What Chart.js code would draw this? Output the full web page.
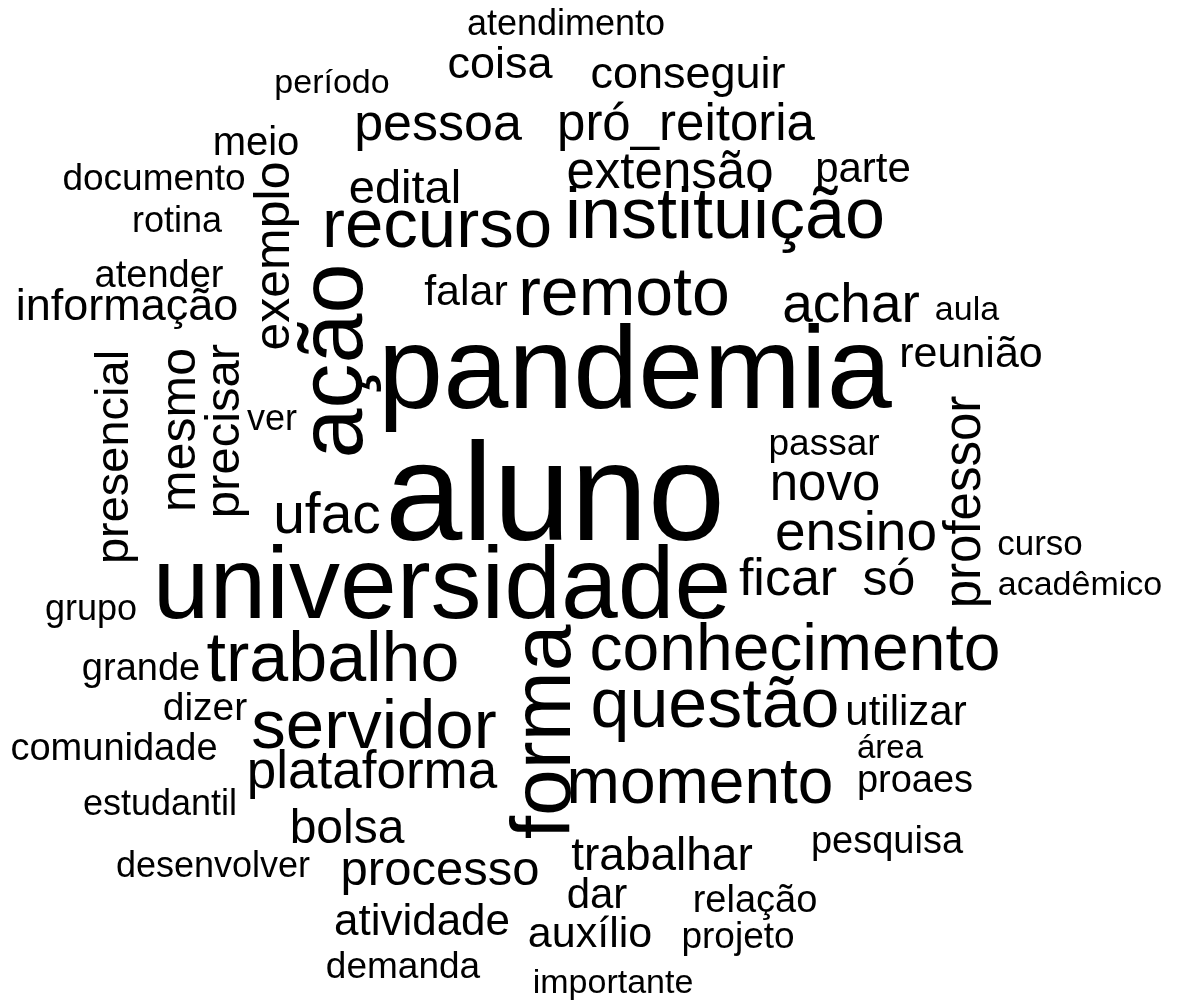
<!DOCTYPE html>
<html>
<head>
<meta charset="utf-8">
<script src="https://cdn.jsdelivr.net/npm/chart.js@4/dist/chart.umd.min.js"></script>
<style>
  html, body { margin: 0; padding: 0; background: #ffffff; }
  #wrap { width: 1178px; height: 1006px; position: relative; }
</style>
</head>
<body>
<div id="wrap"><canvas id="c"></canvas></div>
<script>
// Words of the cloud
const words = ["atendimento","período","coisa","conseguir","pessoa","pró_reitoria","meio","documento","rotina","atender",
  "informação","exemplo","edital","recurso","extensão","instituição","parte","falar","remoto","achar",
  "aula","ação","pandemia","reunião","presencial","mesmo","precisar","ver","ufac","aluno",
  "universidade","passar","novo","ensino","professor","curso","acadêmico","ficar","só","grupo",
  "trabalho","forma","conhecimento","grande","dizer","servidor","questão","utilizar","comunidade","área",
  "plataforma","momento","proaes","estudantil","bolsa","pesquisa","desenvolver","processo","trabalhar","dar",
  "relação","atividade","auxílio","projeto","demanda","importante"];
// Relative weight (frequency) of each word
const weights = [36,34,45,45,52,51,40,37,36,38,
  45,50,47,69,51,72,42,43,68,55,
  34,90,117,43,47,50,49,36,57,139,
  102,37,51,55,51,35,34,52,50,36,
  70,84,66,38,39,69,70,42,38,33,
  53,64,38,36,48,38,36,49,46,42,
  38,44,43,37,37,34];
// Layout coordinates of each word in the cloud (0..1178 wide, 0..1006 tall)
const posX = [566,332,500,688,438,686,256,154,177,159,
  127,289,405,437,670,725,863,466,624,851,
  967,362,635,971,128,195,239,272,327,555,
  442,824,825,856,980,1040,1080,788,889,91,
  333,570,795,141,205,374,715,906,114,890,
  372,700,915,160,347,887,213,440,662,597,
  755,422,590,738,403,613];
const posY = [35,93,78,88,140,140,155,190,232,287,
  320,256,203,247,188,238,182,305,315,322,
  320,361,408,367,457,430,431,430,533,540,
  618,455,500,550,502,555,595,595,595,620,
  681,732,670,680,720,748,727,725,760,758,
  788,803,792,815,843,853,877,885,870,908,
  912,935,947,948,978,993];
// Vertical (rotated) words
const vertical = ["exemplo","ação","presencial","mesmo","precisar","professor","forma"];

const wordPlugin = {
  id: 'wordText',
  afterDatasetsDraw(chart) {
    const ctx = chart.ctx;
    const xs = chart.scales.x, ys = chart.scales.y;
    const k = (ys.getPixelForValue(1006) - ys.getPixelForValue(0)) / 1006;
    ctx.save();
    ctx.fillStyle = '#000000';
    ctx.textAlign = 'center';
    ctx.textBaseline = 'alphabetic';
    words.forEach((w, i) => {
      const px = xs.getPixelForValue(posX[i]);
      const py = ys.getPixelForValue(posY[i]);
      ctx.font = (weights[i] * k).toFixed(1) + 'px "Liberation Sans", Arial, sans-serif';
      ctx.save();
      ctx.translate(px, py);
      if (vertical.includes(w)) ctx.rotate(-Math.PI / 2);
      ctx.fillText(w, 0, 0);
      ctx.restore();
    });
    ctx.restore();
  }
};

new Chart(document.getElementById('c'), {
  type: 'scatter',
  data: {
    datasets: [{
      data: words.map((w, i) => ({ x: posX[i], y: posY[i] })),
      pointRadius: 0,
      pointHoverRadius: 0
    }]
  },
  options: {
    responsive: true,
    maintainAspectRatio: false,
    animation: false,
    layout: { padding: 0 },
    plugins: { legend: { display: false }, tooltip: { enabled: false } },
    events: [],
    scales: {
      x: { type: 'linear', min: 0, max: 1178, display: false },
      y: { type: 'linear', min: 0, max: 1006, reverse: true, display: false }
    }
  },
  plugins: [wordPlugin]
});
</script>
</body>
</html>
